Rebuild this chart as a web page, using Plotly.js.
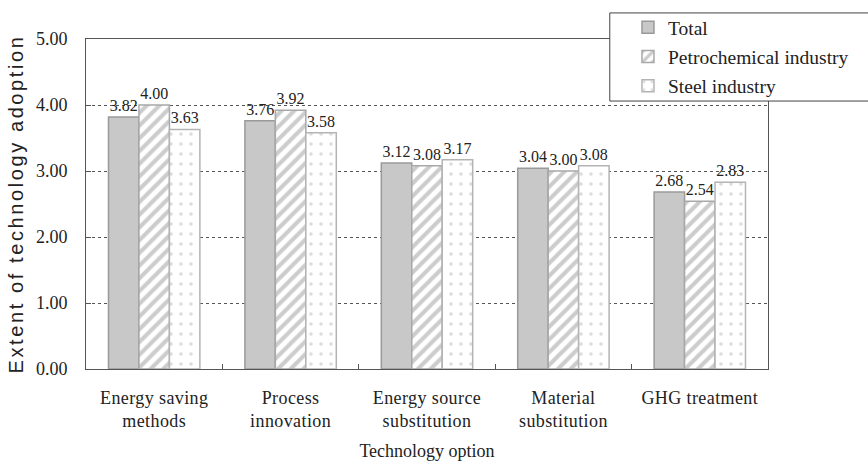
<!DOCTYPE html>
<html>
<head>
<meta charset="utf-8">
<script src="https://cdn.plot.ly/plotly-3.0.1.min.js"></script>
<style>
html,body{margin:0;padding:0;background:#fff;}
#chart{width:868px;height:462px;}
#chart .ytitle{letter-spacing:2.6px;}
#chart .xtick text{letter-spacing:0.4px;}
</style>
</head>
<body>
<div id="chart"></div>
<script>
var categories = ["Energy saving<br>methods", "Process<br>innovation", "Energy source<br>substitution", "Material<br>substitution", "GHG treatment"];
var totalValues = [3.82, 3.76, 3.12, 3.04, 2.68];
var petroValues = [4.00, 3.92, 3.08, 3.00, 2.54];
var steelValues = [3.63, 3.58, 3.17, 3.08, 2.83];
var yTickVals = [0, 1, 2, 3, 4, 5];
var yTickText = ["0.00", "1.00", "2.00", "3.00", "4.00", "5.00"];

var serif = "Liberation Serif";
var txtFont = {family: serif, size: 16, color: "#222"};
function fmt(a){ return a.map(function(v){ return v.toFixed(2); }); }

var traces = [
  {type: "bar", name: "Total", x: categories, y: totalValues, text: fmt(totalValues),
   textposition: "outside", textfont: txtFont, cliponaxis: false, legendgroup: "a",
   marker: {color: "#c8c8c8", line: {color: "#9a9a9a", width: 1.5}}},
  {type: "bar", name: "Petrochemical industry", x: categories, y: petroValues, text: fmt(petroValues),
   textposition: "outside", textfont: txtFont, cliponaxis: false, legendgroup: "b",
   marker: {color: "#ffffff", line: {color: "#a8a8a8", width: 1.5},
            pattern: {shape: "/", fgcolor: "#cccccc", bgcolor: "#ffffff", size: 9, solidity: 0.45}}},
  {type: "bar", name: "Steel industry", x: categories, y: steelValues, text: fmt(steelValues),
   textposition: "outside", textfont: txtFont, cliponaxis: false, legendgroup: "c",
   marker: {color: "#ffffff", line: {color: "#b4b4b4", width: 1.5},
            pattern: {shape: ".", fgcolor: "#dcdcdc", bgcolor: "#ffffff", size: 10, solidity: 0.1}}}
];

var layout = {
  width: 868, height: 462,
  margin: {l: 86, r: 100, t: 39, b: 93, autoexpand: false},
  paper_bgcolor: "#fff", plot_bgcolor: "#fff",
  barmode: "group", bargap: 0.33, bargroupgap: 0,
  font: {family: serif, size: 18, color: "#222"},
  showlegend: true,
  legend: {x: 0.7947, y: 1.094, xanchor: "left", yanchor: "top",
           bgcolor: "rgba(0,0,0,0)", borderwidth: 0,
           font: {family: serif, size: 19.5, color: "#222"},
           tracegroupgap: 1, traceorder: "grouped"},
  shapes: [{type: "rect", xref: "paper", yref: "paper", x0: 0.768, x1: 1.2, y0: 0.812, y1: 1.079,
            fillcolor: "#fff", line: {color: "#444", width: 1}, layer: "above"}],
  xaxis: {type: "category", showline: true, mirror: true, linecolor: "#555", linewidth: 1,
          ticks: "inside", tickson: "boundaries", ticklen: 5, tickcolor: "#555",
          tickfont: {family: serif, size: 18, color: "#222"}, ticklabelstandoff: 12,
          title: {text: "Technology option", font: {family: serif, size: 18, color: "#222"}, standoff: 14}},
  yaxis: {range: [0, 5], tickvals: yTickVals, ticktext: yTickText,
          showline: true, mirror: true, linecolor: "#555", linewidth: 1,
          ticks: "inside", ticklen: 5, tickcolor: "#555",
          showgrid: true, gridcolor: "#555", griddash: "dot", gridwidth: 1, zeroline: false,
          tickfont: {family: serif, size: 18, color: "#222"}, ticklabelstandoff: 14,
          title: {text: "Extent of technology adoption", font: {family: "Liberation Sans", size: 20, color: "#222"}, standoff: 6}}
};

Plotly.newPlot("chart", traces, layout, {displayModeBar: false, staticPlot: true});
</script>
</body>
</html>
